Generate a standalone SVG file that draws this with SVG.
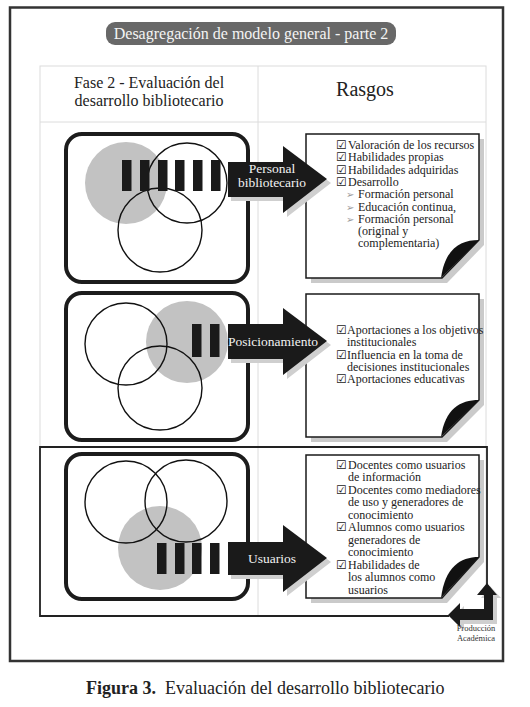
<svg xmlns="http://www.w3.org/2000/svg" width="530" height="707" viewBox="0 0 530 707">
<style>
text{font-family:"Liberation Serif","DejaVu Serif",serif;}
.grid{stroke:#dcdcdc;stroke-width:1;fill:none;}
.rbox{fill:#fff;stroke:#1c1c1c;stroke-width:4;}
.ring{fill:none;stroke:#111;stroke-width:1.4;}
.gray{fill:#c2c2c2;}
.bar{fill:#1a1a1a;}
.arrow{fill:#1a1a1a;}
.ashadow{fill:#cfcfcf;}
.alabel{fill:#f2f2f2;font-size:13.5px;text-anchor:middle;}
.page{fill:#fff;stroke:#1a1a1a;stroke-width:1.5;}
.pshadow{fill:#cacaca;}
.curl{fill:#111;}
.item{font-size:12px;fill:#222;}
.chk{font-family:"DejaVu Sans",sans-serif;font-size:12px;fill:#222;}
.bul{font-family:"DejaVu Sans",sans-serif;font-size:10px;fill:#9a9a9a;}
</style>

<!-- outer frame -->
<rect x="10" y="7.5" width="493" height="653.5" fill="#fff" stroke="#333" stroke-width="2.5"/>

<g id="title">
  <rect x="106" y="22" width="290" height="23" rx="9" fill="#686868"/>
  <text x="251" y="39" font-size="16" fill="#f4f4f4" text-anchor="middle">Desagregación de modelo general - parte 2</text>
</g>

<g id="table">
  <rect class="grid" x="40" y="66" width="446" height="550"/>
  <line class="grid" x1="258" y1="66" x2="258" y2="616"/>
  <line class="grid" x1="40" y1="122" x2="486" y2="122"/>
  <text x="149" y="88" font-size="16" fill="#222" text-anchor="middle">Fase 2 - Evaluación del</text>
  <text x="149" y="106" font-size="16" fill="#222" text-anchor="middle">desarrollo bibliotecario</text>
  <text x="365" y="96" font-size="20" fill="#222" text-anchor="middle">Rasgos</text>
</g>

<!-- row 3 highlight frame -->
<g id="row3-frame">
  <polyline points="449,616 40,616 40,447 487,447 487,584" fill="none" stroke="#222" stroke-width="1.8"/>
</g>

<!-- Row 1 venn -->
<g id="venn1">
  <rect class="rbox" x="66" y="134" width="182" height="148" rx="16"/>
  <circle class="gray" cx="126" cy="183" r="41"/>
  <circle class="ring" cx="187" cy="183" r="40"/>
  <circle class="ring" cx="160" cy="230" r="42"/>
  <rect class="bar" x="122" y="160" width="9.5" height="31"/>
  <rect class="bar" x="140" y="160" width="9.5" height="31"/>
  <rect class="bar" x="158" y="160" width="9.5" height="31"/>
  <rect class="bar" x="175" y="160" width="9.5" height="31"/>
  <rect class="bar" x="193" y="160" width="9.5" height="31"/>
  <rect class="bar" x="211" y="160" width="9.5" height="31"/>
</g>

<!-- Row 2 venn -->
<g id="venn2">
  <rect class="rbox" x="66" y="293" width="182" height="147" rx="16"/>
  <circle class="gray" cx="187" cy="342" r="41"/>
  <circle class="ring" cx="126" cy="344" r="41"/>
  <circle class="ring" cx="160" cy="388" r="42"/>
  <rect class="bar" x="192" y="324" width="9.5" height="33"/>
  <rect class="bar" x="210" y="324" width="9.5" height="33"/>
</g>

<!-- Row 3 venn -->
<g id="venn3">
  <rect class="rbox" x="66" y="454" width="182" height="145" rx="16"/>
  <circle class="gray" cx="160" cy="548" r="42"/>
  <circle class="ring" cx="126" cy="502" r="41"/>
  <circle class="ring" cx="186" cy="501" r="41"/>
  <rect class="bar" x="157" y="543" width="9.5" height="31"/>
  <rect class="bar" x="175" y="543" width="9.5" height="31"/>
  <rect class="bar" x="192" y="543" width="9.5" height="31"/>
  <rect class="bar" x="210" y="543" width="9.5" height="31"/>
</g>

<!-- Row 1 page -->
<g id="page1">
  <path class="pshadow" d="M311,139 H484 V245 L447,283 H311 Z"/>
  <path class="page" d="M306,134 H479 V240 L442,278 H306 Z"/>
  <path class="curl" d="M479,240 C460,240 445,249 441,278 Z"/>
  <text class="item"><tspan class="chk" x="336" y="149">☑</tspan><tspan x="348">Valoración de los recursos</tspan></text>
  <text class="item"><tspan class="chk" x="336" y="161.3">☑</tspan><tspan x="348">Habilidades propias</tspan></text>
  <text class="item"><tspan class="chk" x="336" y="173.6">☑</tspan><tspan x="348">Habilidades adquiridas</tspan></text>
  <text class="item"><tspan class="chk" x="336" y="185.9">☑</tspan><tspan x="348">Desarrollo</tspan></text>
  <text class="item"><tspan class="bul" x="346" y="198.2">➢</tspan><tspan x="358">Formación personal</tspan></text>
  <text class="item"><tspan class="bul" x="346" y="210.5">➢</tspan><tspan x="358">Educación continua,</tspan></text>
  <text class="item"><tspan class="bul" x="346" y="222.8">➢</tspan><tspan x="358">Formación personal</tspan></text>
  <text class="item" x="358" y="235.1">(original y</text>
  <text class="item" x="358" y="247.4">complementaria)</text>
</g>

<!-- Row 2 page -->
<g id="page2">
  <path class="pshadow" d="M311,299 H484 V405 L447,442 H311 Z"/>
  <path class="page" d="M306,294 H479 V400 L442,437 H306 Z"/>
  <path class="curl" d="M479,400 C460,400 445,409 441,437 Z"/>
  <text class="item"><tspan class="chk" x="336" y="334">☑</tspan><tspan x="347">Aportaciones a los objetivos</tspan></text>
  <text class="item" x="347" y="346.3">institucionales</text>
  <text class="item"><tspan class="chk" x="336" y="358.6">☑</tspan><tspan x="347">Influencia en la toma de</tspan></text>
  <text class="item" x="347" y="370.9">decisiones institucionales</text>
  <text class="item"><tspan class="chk" x="336" y="383.2">☑</tspan><tspan x="347">Aportaciones educativas</tspan></text>
</g>

<!-- Row 3 page -->
<g id="page3">
  <path class="pshadow" d="M311,460 H484 V562 L447,603 H311 Z"/>
  <path class="page" d="M306,455 H479 V557 L442,598 H306 Z"/>
  <path class="curl" d="M479,557 C460,557 445,567 441,598 Z"/>
  <text class="item"><tspan class="chk" x="336" y="468.5">☑</tspan><tspan x="348">Docentes como usuarios</tspan></text>
  <text class="item" x="348" y="481">de información</text>
  <text class="item"><tspan class="chk" x="336" y="493.5">☑</tspan><tspan x="348">Docentes como mediadores</tspan></text>
  <text class="item" x="348" y="506">de uso y generadores de</text>
  <text class="item" x="348" y="518.5">conocimiento</text>
  <text class="item"><tspan class="chk" x="336" y="531">☑</tspan><tspan x="348">Alumnos como usuarios</tspan></text>
  <text class="item" x="348" y="543.5">generadores de</text>
  <text class="item" x="348" y="556">conocimiento</text>
  <text class="item"><tspan class="chk" x="336" y="568.5">☑</tspan><tspan x="348">Habilidades de</tspan></text>
  <text class="item" x="348" y="581">los alumnos como</text>
  <text class="item" x="348" y="593.5">usuarios</text>
</g>

<g id="connectors">
  <!-- arrow 1 -->
  <path class="ashadow" d="M231,166 H287 V150 L331,183 L287,217 V201 H231 Z"/>
  <path class="arrow" d="M228,162 H283 V146 L327,179 L283,213 V197 H228 Z"/>
  <text class="alabel" x="272" y="173">Personal</text>
  <text class="alabel" x="272" y="187">bibliotecario</text>
  <!-- arrow 2 -->
  <path class="ashadow" d="M231,328 H287 V312 L331,345 L287,379 V363 H231 Z"/>
  <path class="arrow" d="M228,324 H283 V308 L327,341 L283,375 V359 H228 Z"/>
  <text class="alabel" x="273" y="346">Posicionamiento</text>
  <!-- arrow 3 -->
  <path class="ashadow" d="M231,546 H287 V529 L331,562 L287,596 V579 H231 Z"/>
  <path class="arrow" d="M228,542 H283 V525 L327,558 L283,592 V575 H228 Z"/>
  <text class="alabel" x="272" y="563">Usuarios</text>
  <!-- Producción académica loop arrow -->
  <path class="ashadow" d="M490,586 L501,598 L497,598 L497,624 L464,624 L464,630 L452,618 L464,606 L464,612 L488,612 L488,598 L481,598 Z"/>
  <path class="arrow" d="M487,583 L497,595 L493,595 L493,620 L460,620 L460,627 L448,615 L460,603 L460,609 L484,609 L484,595 L477,595 Z"/>
  <text x="476" y="631" font-size="8.5" fill="#333" text-anchor="middle">Producción</text>
  <text x="476" y="641" font-size="8.5" fill="#333" text-anchor="middle">Académica</text>
</g>

<g id="caption">
  <text x="86" y="694" font-size="18" fill="#222" font-weight="bold">Figura 3.</text>
  <text x="165" y="694" font-size="18" fill="#222">Evaluación del desarrollo bibliotecario</text>
</g>
</svg>
